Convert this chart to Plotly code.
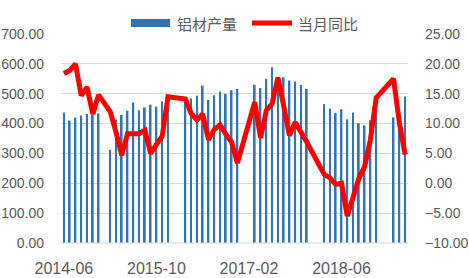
import plotly.graph_objects as go

months = [
    "2014-06","2014-07","2014-08","2014-09","2014-10","2014-11","2014-12",
    "2015-01","2015-02","2015-03","2015-04","2015-05","2015-06","2015-07","2015-08","2015-09","2015-10","2015-11","2015-12",
    "2016-01","2016-02","2016-03","2016-04","2016-05","2016-06","2016-07","2016-08","2016-09","2016-10","2016-11","2016-12",
    "2017-01","2017-02","2017-03","2017-04","2017-05","2017-06","2017-07","2017-08","2017-09","2017-10","2017-11","2017-12",
    "2018-01","2018-02","2018-03","2018-04","2018-05","2018-06","2018-07","2018-08","2018-09","2018-10","2018-11","2018-12",
    "2019-01","2019-02","2019-03","2019-04","2019-05",
]

production = [
    437, 410, 420, 427, 432, 430, 434,
    None, 312, 414, 429, 443, 471, 445, 454, 463, 457, 474, 480,
    None, None, 480, 484, 493, 527, 479, 495, 507, 499, 512, 516,
    None, None, 530, 519, 550, 589, 555, 555, 544, 541, 529, 516,
    None, None, 465, 450, 435, 448, 414, 437, 401, 394, 411, 470,
    None, None, 421, 440, 491,
]

yoy = [
    18.4, 18.9, 20.0, 14.7, 16.1, 11.6, 14.8,
    None, 12.0, 8.6, 4.7, 8.3, 8.3, 8.3, 8.9, 5.0, 6.5, 7.9, 14.5,
    None, None, 14.1, 11.7, 10.6, 11.6, 7.3, 9.0, 9.8, 8.2, 6.9, 3.4,
    None, None, 13.6, 7.6, 12.2, 13.3, 17.7, 13.0, 8.0, 10.2, 8.7, 6.9,
    None, None, 1.5, 0.9, -0.2, 0.0, -5.5, -2.0, 0.8, 2.8, 7.3, 14.3,
    None, None, 17.5, 10.2, 4.8,
]

x_ticks = ["2014-06", "2015-10", "2017-02", "2018-06"]
series_names = ["铝材产量", "当月同比"]

BAR_COLOR = "#2E75B6"
LINE_COLOR = "#FF0000"
TEXT_COLOR = "#595959"
NUM_FONT = "Liberation Sans"
CJK_FONT = "Noto Sans CJK SC"

fig = go.Figure()
fig.add_trace(go.Bar(
    x=months, y=production, name=series_names[0],
    marker=dict(color=BAR_COLOR, line=dict(width=0)),
    width=0.3, yaxis="y", showlegend=False,
))
fig.add_trace(go.Scatter(
    x=months, y=yoy, name=series_names[1], mode="lines",
    line=dict(color=LINE_COLOR, width=5), connectgaps=True,
    yaxis="y2", showlegend=False,
))

W, H = 469, 278
L, R, T, B = 61, 61, 34, 35
pw, ph = W - L - R, H - T - B

def px_x(x):
    return (x - L) / pw

def px_y(y):
    return (H - B - y) / ph

fig.update_layout(
    width=W, height=H,
    margin=dict(l=L, r=R, t=T, b=B, pad=0, autoexpand=False),
    paper_bgcolor="white", plot_bgcolor="white",
    xaxis=dict(
        type="category", categoryorder="array", categoryarray=months,
        range=[-0.5, len(months) - 0.5], automargin=False,
        tickmode="array", tickvals=x_ticks, ticktext=x_ticks,
        showgrid=False, zeroline=False, showline=False, ticks="",
        tickfont=dict(family=NUM_FONT, size=16, color=TEXT_COLOR),
        ticklabelstandoff=14,
    ),
    yaxis=dict(
        range=[0, 700], dtick=100, tick0=0, tickformat=".2f", automargin=False,
        showgrid=True, gridcolor="#D9D9D9", gridwidth=1,
        zeroline=False, showline=False, ticks="",
        tickfont=dict(family=NUM_FONT, size=14, color=TEXT_COLOR),
        ticklabelstandoff=16,
    ),
    yaxis2=dict(
        range=[-10, 25], dtick=5, tick0=-10, tickformat=".2f", automargin=False,
        overlaying="y", side="right",
        showgrid=False, zeroline=False, showline=False, ticks="",
        tickfont=dict(family=NUM_FONT, size=14, color=TEXT_COLOR),
        ticklabelstandoff=16,
    ),
    showlegend=False,
)

fig.add_shape(type="line", xref="paper", yref="paper", x0=0, x1=1, y0=0, y1=0,
              line=dict(color="#D9D9D9", width=1))

# manual legend
fig.add_shape(type="rect", xref="paper", yref="paper",
              x0=px_x(131), x1=px_x(170), y0=px_y(27), y1=px_y(19),
              fillcolor=BAR_COLOR, line=dict(width=0))
fig.add_annotation(xref="paper", yref="paper", x=px_x(175), y=px_y(23),
                   text=series_names[0], showarrow=False, xanchor="left", yanchor="middle",
                   font=dict(family=CJK_FONT, size=15, color=TEXT_COLOR))
fig.add_shape(type="line", xref="paper", yref="paper",
              x0=px_x(252), x1=px_x(292), y0=px_y(23), y1=px_y(23),
              line=dict(color=LINE_COLOR, width=5))
fig.add_annotation(xref="paper", yref="paper", x=px_x(296), y=px_y(23),
                   text=series_names[1], showarrow=False, xanchor="left", yanchor="middle",
                   font=dict(family=CJK_FONT, size=15, color=TEXT_COLOR))

fig.write_html("out.html")
